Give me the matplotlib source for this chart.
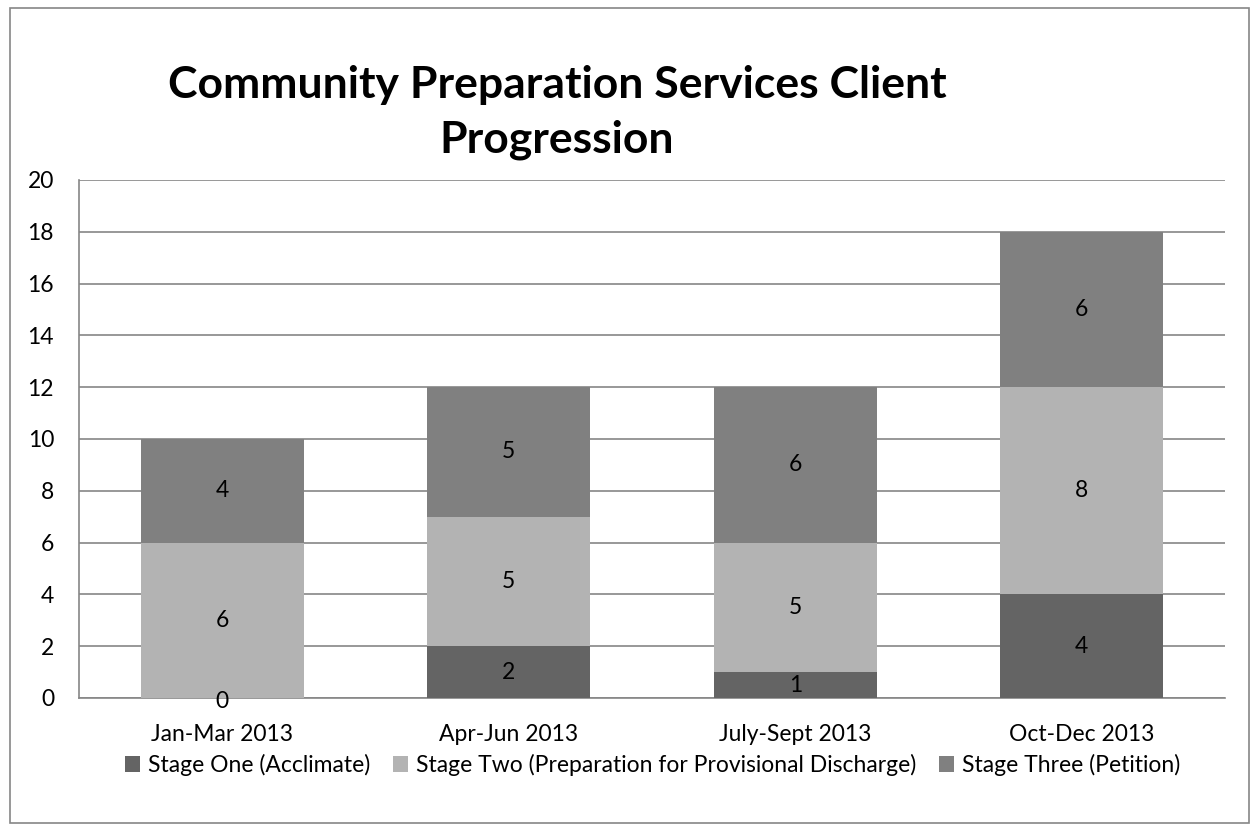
import numpy as np
import matplotlib.pyplot as plt
from matplotlib.patches import Rectangle

quarters = ['Jan-Mar 2013', 'Apr-Jun 2013', 'July-Sept 2013', 'Oct-Dec 2013']
stage_one = [0, 2, 1, 4]
stage_two = [6, 5, 5, 8]
stage_three = [4, 5, 6, 6]
series_names = ['Stage One (Acclimate)',
                'Stage Two (Preparation for Provisional Discharge)',
                'Stage Three (Petition)']
colors = ['#646464', '#b3b3b3', '#808080']

plt.rcParams['font.family'] = ['Lato', 'DejaVu Sans']

fig = plt.figure(figsize=(12.51, 8.24), dpi=100)
ax = fig.add_axes([79 / 1251, 1 - 698 / 824, (1225 - 79) / 1251, (698 - 180) / 824])

x = np.arange(len(quarters))
bottom = np.zeros(len(quarters))
for vals, name, c in zip([stage_one, stage_two, stage_three], series_names, colors):
    ax.bar(x, vals, 0.57, bottom=bottom, color=c, label=name, zorder=3)
    for xi, v, bt in zip(x, vals, bottom):
        ax.text(xi, bt + v / 2 - (0.15 if v == 0 else 0), str(v), ha='center', va='center',
                fontsize=16.5, color='black', zorder=4)
    bottom += np.array(vals)

ax.set_xlim(-0.5, len(quarters) - 0.5)
ax.set_ylim(0, 20)
ax.set_yticks(range(0, 21, 2))
ax.set_xticks(x)
ax.set_xticklabels(quarters)
ax.tick_params(axis='both', length=0, labelsize=16.5)
ax.tick_params(axis='x', pad=19)
ax.tick_params(axis='y', pad=18)
ax.grid(axis='y', color='#868686', linewidth=1.2, zorder=0)
for s in ['top', 'right']:
    ax.spines[s].set_visible(False)
for s in ['left', 'bottom']:
    ax.spines[s].set_color('#868686')
    ax.spines[s].set_linewidth(1.2)

fig.text(557 / 1251, 1 - 85 / 824, 'Community Preparation Services Client', ha='center',
         va='center', fontsize=32, fontweight='bold')
fig.text(557 / 1251, 1 - 140 / 824, 'Progression', ha='center', va='center',
         fontsize=32, fontweight='bold')

fig.legend(loc='center', bbox_to_anchor=(653 / 1251, 1 - 765 / 824), ncol=3, frameon=False,
           fontsize=16.5, handlelength=0.65, handleheight=0.65, handletextpad=0.35,
           columnspacing=1.0)

fig.patches.append(Rectangle((10 / 1251, 1 / 824), 1239 / 1251, 815 / 824,
                             transform=fig.transFigure, fill=False,
                             edgecolor='#868686', linewidth=1.2))

fig.savefig('out.png', dpi=100)
